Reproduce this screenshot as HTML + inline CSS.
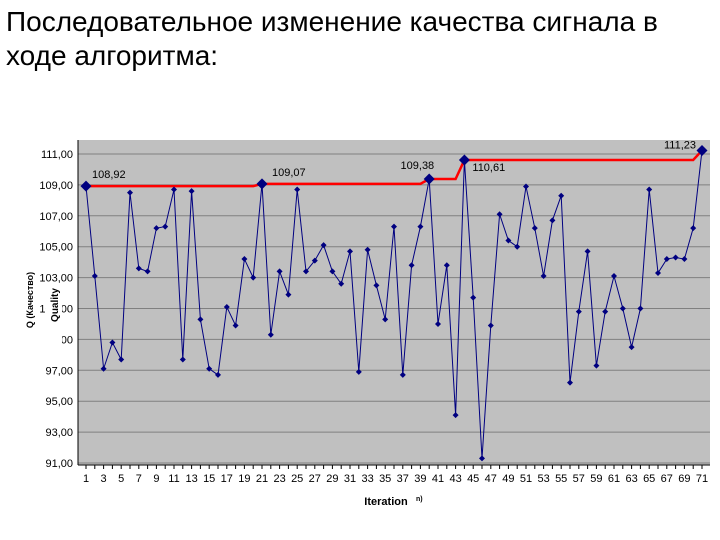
<!DOCTYPE html>
<html><head><meta charset="utf-8"><style>
body{margin:0;width:720px;height:540px;background:#fff;overflow:hidden;font-family:"Liberation Sans",sans-serif}
.t{position:absolute;left:6px;top:5px;font-size:28px;line-height:34px;color:#000}
</style></head><body>
<div class="t">Последовательное изменение качества сигнала в<br>ходе алгоритма:</div>
<svg id="c" width="720" height="540" style="position:absolute;left:0;top:0"></svg>
<script>
const iterations=[];for(let i=1;i<=71;i++)iterations.push(i);
const quality=[108.92,103.1,97.1,98.8,97.7,108.5,103.6,103.4,106.2,106.3,108.7,97.7,108.6,100.3,97.1,96.7,101.1,99.9,104.2,103.0,109.07,99.3,103.4,101.9,108.7,103.4,104.1,105.1,103.4,102.6,104.7,96.9,104.8,102.5,100.3,106.3,96.7,103.8,106.3,109.38,100.0,103.8,94.1,110.61,101.7,91.3,99.9,107.1,105.4,105.0,108.9,106.2,103.1,106.7,108.3,96.2,100.8,104.7,97.3,100.8,103.1,101.0,98.5,101.0,108.7,103.3,104.2,104.3,104.2,106.2,111.23];
const yTicks=[91,93,95,97,99,101,103,105,107,109,111];
const xTickLabels=[1,3,5,7,9,11,13,15,17,19,21,23,25,27,29,31,33,35,37,39,41,43,45,47,49,51,53,55,57,59,61,63,65,67,69,71];
const NS="http://www.w3.org/2000/svg",svg=document.getElementById('c');
const X0=78,X1=710,Y0=140,Y1=465;
const xs=i=>86+(i-1)*(702-86)/70;
const ys=v=>463-(v-91)*(463-154)/20;
function mk(t,a,p){const e=document.createElementNS(NS,t);for(const k in a)e.setAttribute(k,a[k]);(p||svg).appendChild(e);return e;}
let e=mk('rect',{x:X0,y:Y0,width:X1-X0,height:Y1-Y0,fill:'#c0c0c0'});

yTicks.forEach(v=>{
 const g=mk('line',{x1:X0,x2:X1,y1:ys(v),y2:ys(v),stroke:'#808080','stroke-width':1});
 
 const l=mk('text',{x:73,y:ys(v)+4,'text-anchor':'end','font-size':11});
 l.textContent=v.toFixed(2).replace('.',',');
 
});
mk('line',{x1:X0,x2:X0,y1:Y0,y2:Y1,stroke:'#000'});
mk('line',{x1:X0,x2:X1,y1:Y1,y2:Y1,stroke:'#000'});
iterations.forEach(i=>{mk('line',{x1:xs(i),x2:xs(i),y1:Y1,y2:Y1+4,stroke:'#000'});});
xTickLabels.forEach(i=>{const l=mk('text',{x:xs(i),y:482,'text-anchor':'middle','font-size':11});l.textContent=i;
 });
let best=-Infinity,bp=[],recs=[];
quality.forEach((v,k)=>{if(v>best){best=v;recs.push(k);}bp.push(xs(iterations[k])+','+ys(best));});
e=mk('polyline',{points:bp.join(' '),fill:'none',stroke:'#ff0000','stroke-width':2.5});

e=mk('polyline',{points:quality.map((v,k)=>xs(iterations[k])+','+ys(v)).join(' '),fill:'none',stroke:'#000080','stroke-width':1});

quality.forEach((v,k)=>{const x=xs(iterations[k]),y=ys(v),r=recs.includes(k)?5.5:3;
 const p=mk('polygon',{points:`${x},${y-r} ${x+r},${y} ${x},${y+r} ${x-r},${y}`,fill:'#000080'});
 });
const offs=[[6,-8,'start'],[10,-8,'start'],[5,-10,'end'],[8,11,'start'],[-6,-2,'end']];
recs.forEach((k,j)=>{const o=offs[j]||[6,-8,'start'];const l=mk('text',{x:xs(iterations[k])+o[0],y:ys(quality[k])+o[1],'text-anchor':o[2],'font-size':11});
 l.textContent=quality[k].toFixed(2).replace('.',',');
 });
mk('rect',{x:46,y:288,width:16,height:58,fill:'#fff'});
e=mk('text',{x:0,y:0,'font-size':10,'font-weight':'bold',transform:'translate(58,305) rotate(-90)','text-anchor':'middle'});e.textContent='Quality';

e=mk('text',{x:0,y:0,'font-size':9,'font-weight':'bold',transform:'translate(33,300) rotate(-90)','text-anchor':'middle'});e.textContent='Q (Качество)';

e=mk('text',{x:386,y:505,'font-size':11,'font-weight':'bold','text-anchor':'middle'});e.textContent='Iteration';

e=mk('text',{x:416,y:501,'font-size':7,'font-weight':'bold'});e.textContent='n)';
</script>
</body></html>
